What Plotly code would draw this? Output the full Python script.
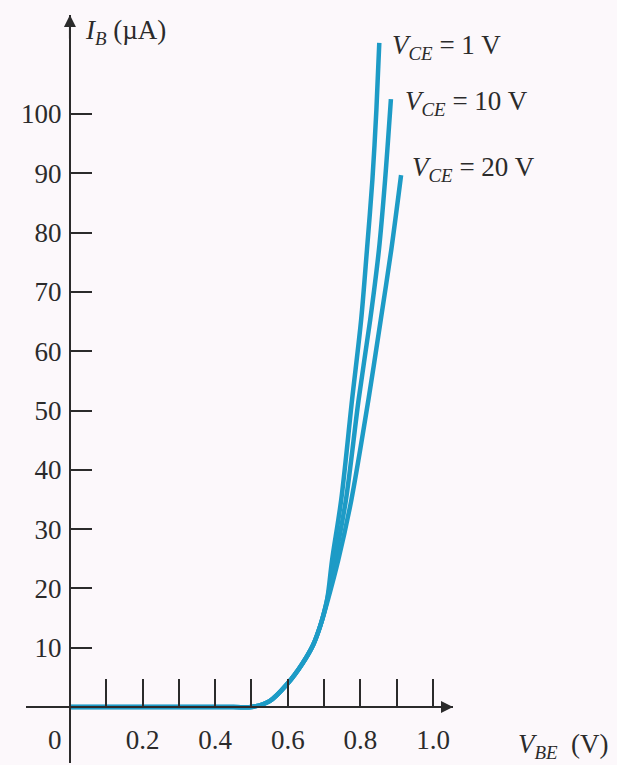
import plotly.graph_objects as go

# ---- data (V_BE in volts, I_B in microamps) ----
vbe_1v = [0.0, 0.45, 0.50, 0.55, 0.60, 0.64, 0.67, 0.69, 0.708, 0.722, 0.747, 0.777, 0.802, 0.818, 0.833, 0.844, 0.852]
ib_1v = [0, 0, 0, 1.0, 4.0, 7.3, 10.5, 13.8, 18.0, 24.8, 34.9, 51.8, 65.3, 77.1, 88.9, 100.7, 112.0]

vbe_10v = [0.0, 0.45, 0.50, 0.55, 0.60, 0.64, 0.67, 0.69, 0.708, 0.730, 0.760, 0.795, 0.827, 0.851, 0.868, 0.884]
ib_10v = [0, 0, 0, 1.0, 4.0, 7.3, 10.5, 13.8, 18.0, 24.8, 34.9, 51.8, 65.3, 77.1, 88.9, 102.5]

vbe_20v = [0.0, 0.45, 0.50, 0.55, 0.60, 0.64, 0.67, 0.69, 0.710, 0.739, 0.775, 0.822, 0.856, 0.885, 0.912]
ib_20v = [0, 0, 0, 1.0, 4.0, 7.3, 10.5, 13.8, 18.0, 24.8, 34.9, 51.8, 65.3, 77.1, 89.7]

curve_labels = ["<i>V</i><sub><i>CE</i></sub> = 1 V",
                "<i>V</i><sub><i>CE</i></sub> = 10 V",
                "<i>V</i><sub><i>CE</i></sub> = 20 V"]

x_tickvals = [0.1, 0.2, 0.3, 0.4, 0.5, 0.6, 0.7, 0.8, 0.9, 1.0]
x_ticktext = ["", "0.2", "", "0.4", "", "0.6", "", "0.8", "", "1.0"]
y_tickvals = [10, 20, 30, 40, 50, 60, 70, 80, 90, 100]
y_ticktext = ["10", "20", "30", "40", "50", "60", "70", "80", "90", "100"]

# ---- style ----
W, H = 617, 765
XR = [-0.121, 1.055]
YR = [-9.44, 116.7]
BG = "#fcf8fb"
INK = "#2b2b2b"
CURVE = "#1d9bc6"
SERIF = "Liberation Serif, Times New Roman, serif"
FS = 27

fig = go.Figure()
series = [(vbe_1v, ib_1v), (vbe_10v, ib_10v), (vbe_20v, ib_20v)]
for vx, iy in series:
    fig.add_trace(go.Scatter(x=vx, y=iy, mode="lines",
                             line=dict(color=CURVE, width=4.5, shape="spline", smoothing=0.9),
                             showlegend=False, hoverinfo="skip"))

label_offsets = [(11, -4), (12, -4), (9, 6)]
for (vx, iy), txt, (dx, dy) in zip(series, curve_labels, label_offsets):
    fig.add_annotation(x=vx[-1], y=iy[-1], text=txt, showarrow=False,
                       xanchor="left", yanchor="middle", xshift=dx, yshift=dy,
                       font=dict(family=SERIF, size=FS, color=INK))

xpos = (0 - YR[0]) / (YR[1] - YR[0])
ypos = (0 - XR[0]) / (XR[1] - XR[0])

fig.update_layout(
    width=W, height=H,
    margin=dict(l=26, r=W - 453, t=15, b=2, pad=0),
    paper_bgcolor=BG, plot_bgcolor=BG,
    xaxis=dict(range=XR, anchor="free", position=xpos, showline=True, linecolor=INK, linewidth=2,
               tickvals=x_tickvals, ticktext=x_ticktext, ticks="inside", ticklen=27, tickwidth=2,
               tickcolor=INK, showgrid=False, zeroline=False, ticklabelstandoff=9,
               tickfont=dict(family=SERIF, size=FS, color=INK)),
    yaxis=dict(range=YR, anchor="free", position=ypos, showline=True, linecolor=INK, linewidth=2,
               tickvals=y_tickvals, ticktext=y_ticktext, ticks="inside", ticklen=21, tickwidth=2,
               tickcolor=INK, showgrid=False, zeroline=False, ticklabelstandoff=2,
               tickfont=dict(family=SERIF, size=FS, color=INK)),
)

# axis arrows
fig.add_annotation(x=0, y=YR[1], xref="x", yref="y", text="", showarrow=True,
                   arrowhead=2, arrowsize=1.2, arrowwidth=2, arrowcolor=INK, ax=0, ay=25)
fig.add_annotation(x=XR[1], y=0, xref="x", yref="y", text="", showarrow=True,
                   arrowhead=2, arrowsize=1.2, arrowwidth=2, arrowcolor=INK, ax=-25, ay=0)

# axis titles and origin label
fig.add_annotation(x=0.036, y=113.8, text="<i>I</i><sub><i>B</i></sub> (µA)", showarrow=False,
                   xanchor="left", yanchor="middle", font=dict(family=SERIF, size=FS, color=INK))
fig.add_annotation(x=1.148, xref="paper", y=-6.6, yref="y",
                   text="<i>V</i><sub><i>BE</i></sub>  (V)", showarrow=False,
                   xanchor="left", yanchor="middle", font=dict(family=SERIF, size=FS, color=INK))
fig.add_annotation(x=-0.041, y=-5.6, text="0", showarrow=False,
                   xanchor="center", yanchor="middle", font=dict(family=SERIF, size=FS, color=INK))

fig.write_html("out.html", config={"displayModeBar": False},
               post_script="document.body.style.margin='0px';document.body.style.overflow='hidden';")
